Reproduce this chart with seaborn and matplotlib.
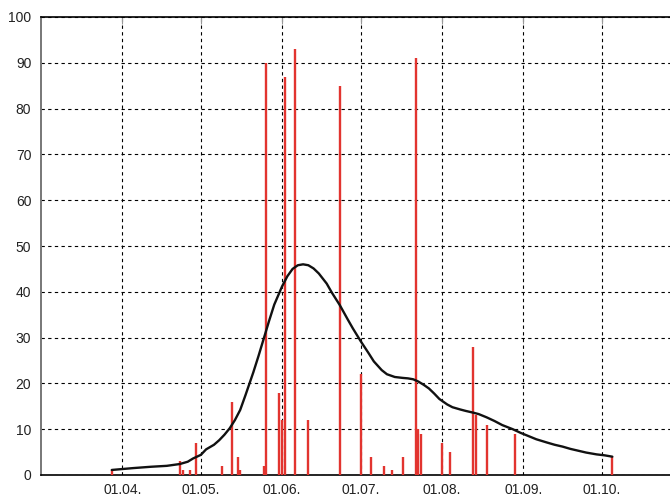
import matplotlib
matplotlib.use("Agg")
import pandas as pd
import matplotlib.pyplot as plt
import matplotlib.dates as mdates
import seaborn as sns

# daily counts (red bars)
bar_dates = ["03-28", "04-23", "04-24", "04-27", "04-29", "05-09", "05-13", "05-15",
             "05-16", "05-25", "05-26", "05-31", "06-01", "06-02", "06-06", "06-11",
             "06-23", "07-01", "07-05", "07-10", "07-13", "07-17", "07-22", "07-23",
             "07-24", "08-01", "08-04", "08-13", "08-14", "08-18", "08-29", "10-05"]
bar_values = [1, 3, 1, 1, 7, 2, 16, 4,
              1, 2, 90, 18, 12, 87, 93, 12,
              85, 22, 4, 2, 1, 4, 91, 10,
              9, 7, 5, 28, 13, 11, 9, 4]

# smoothed trend (black curve)
curve_dates = ["03-28", "04-05", "04-12", "04-18", "04-23", "04-26", "04-28", "05-01",
               "05-03", "05-06", "05-08", "05-10", "05-12", "05-14", "05-16", "05-18",
               "05-21", "05-23", "05-25", "05-27", "05-29", "06-01", "06-03", "06-05",
               "06-07", "06-09", "06-11", "06-13", "06-15", "06-18", "06-20", "06-23",
               "06-26", "06-28", "07-01", "07-04", "07-06", "07-09", "07-11", "07-14",
               "07-17", "07-19", "07-21", "07-23", "07-25", "07-27", "07-29", "07-31",
               "08-03", "08-05", "08-08", "08-10", "08-13", "08-15", "08-18", "08-21",
               "08-24", "08-28", "08-31", "09-03", "09-06", "09-10", "09-13", "09-16",
               "09-19", "09-22", "09-25", "09-29", "10-02", "10-05"]
curve_values = [1.1, 1.5, 1.8, 2.0, 2.4, 2.9, 3.6, 4.4,
                5.6, 6.6, 7.6, 8.8, 10.2, 12.0, 14.2, 17.4,
                22.4, 26.0, 29.8, 33.6, 37.2, 41.2, 43.4, 45.0,
                45.8, 46.0, 45.8, 45.1, 44.0, 41.8, 39.8, 37.1,
                34.0, 32.0, 29.2, 26.6, 24.8, 22.9, 22.0, 21.4,
                21.2, 21.1, 20.9, 20.4, 19.7, 18.9, 17.8, 16.6,
                15.4, 14.8, 14.3, 14.0, 13.6, 13.3, 12.6, 11.8,
                10.9, 10.0, 9.2, 8.5, 7.8, 7.1, 6.6, 6.2,
                5.7, 5.3, 4.9, 4.5, 4.3, 4.0]

YEAR = "2015-"
bars = pd.DataFrame({"date": pd.to_datetime([YEAR + d for d in bar_dates]),
                     "value": bar_values})
curve = pd.DataFrame({"date": pd.to_datetime([YEAR + d for d in curve_dates]),
                      "value": curve_values})

sns.set_style("white")
plt.rcParams["font.family"] = ["Liberation Sans", "DejaVu Sans"]

fig = plt.figure(figsize=(6.7, 4.96), dpi=100)
ax = fig.add_axes([41 / 670, 21 / 496, 629 / 670, 458 / 496])

ax.vlines(bars["date"], 0, bars["value"], color="#e2342f", linewidth=1.7, zorder=3)
sns.lineplot(data=curve, x="date", y="value", color="#111111", linewidth=1.7,
             ax=ax, zorder=4)

ax.set_xlim(pd.Timestamp(YEAR + "03-01"), pd.Timestamp(YEAR + "10-27"))
ax.set_ylim(0, 100)
ax.set_yticks(range(0, 101, 10))
ax.xaxis.set_major_locator(mdates.MonthLocator(bymonth=range(4, 11)))
ax.xaxis.set_major_formatter(mdates.DateFormatter("%d.%m."))

ax.grid(True, color="black", linestyle=(0, (3, 3)), linewidth=0.8, zorder=1)
ax.set_axisbelow(True)
ax.set_xlabel("")
ax.set_ylabel("")

for side in ["top", "bottom"]:
    ax.spines[side].set_color("black")
    ax.spines[side].set_linewidth(1.2)
ax.spines["left"].set_color("#777777")
ax.spines["left"].set_linewidth(1.4)
ax.spines["right"].set_visible(False)

ax.tick_params(axis="both", direction="in", length=5, color="#999999",
               labelsize=10, labelcolor="#222222")
ax.tick_params(axis="x", top=True, pad=6)
ax.tick_params(axis="y", pad=7)

fig.savefig("out.png", dpi=100)
